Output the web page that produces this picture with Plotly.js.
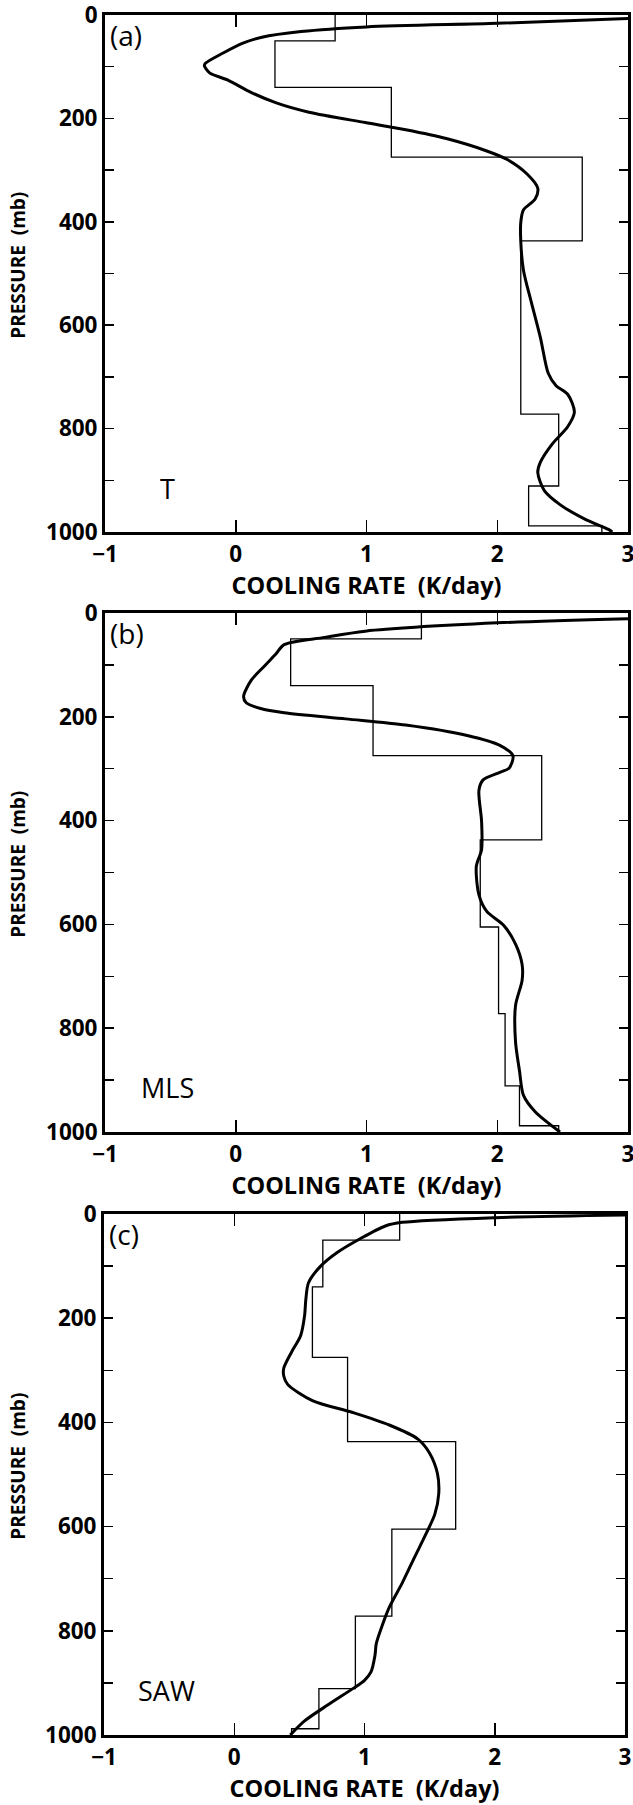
<!DOCTYPE html>
<html><head><meta charset="utf-8">
<script src="https://cdn.plot.ly/plotly-3.0.1.min.js"></script>
<style>html,body{margin:0;padding:0;background:#fff}#chart{width:633px;height:1805px}</style>
</head><body><div id="chart"></div>
<script>
// ---- data ----
const layerBounds = [0, 50, 140, 275, 437, 605, 772, 911, 988, 1000];
const stepT   = [0.76, 0.30, 1.19, 2.65, 2.18, 2.18, 2.47, 2.24, 2.80];
const stepMLS = [1.42, 0.42, 1.05, 2.34, 1.87, 2.01, 2.06, 2.17, 2.47];
const stepSAW = [1.27, 0.68, 0.60, 0.87, 1.70, 1.21, 0.93, 0.65, 0.44];

const curveT_x = [3.0, 2.0, 1.0, 0.50, 0.20, 0.06, -0.10, -0.23, -0.24, -0.20, -0.06, 0.12, 0.31, 0.56, 0.99, 1.30, 1.61, 1.92, 2.08, 2.23, 2.31, 2.29, 2.20, 2.18, 2.18, 2.20, 2.26, 2.33, 2.39, 2.45, 2.54, 2.59, 2.54, 2.42, 2.33, 2.31, 2.36, 2.48, 2.67, 2.85, 2.88];
const curveT_p = [7, 16, 23, 32, 43, 54, 74, 93, 98, 112, 126, 150, 170, 188, 208, 222, 239, 263, 280, 308, 335, 356, 377, 401, 438, 493, 555, 624, 693, 717, 734, 768, 796, 830, 865, 885, 920, 947, 975, 995, 1000];

const curveMLS_x = [3.0, 2.0, 0.99, 0.68, 0.37, 0.31, 0.22, 0.12, 0.06, 0.08, 0.19, 0.37, 0.84, 1.30, 1.77, 2.02, 2.12, 2.09, 2.02, 1.89, 1.86, 1.88, 1.88, 1.84, 1.86, 1.92, 2.05, 2.14, 2.19, 2.19, 2.14, 2.14, 2.17, 2.20, 2.29, 2.48];
const curveMLS_p = [11, 19, 35, 47, 61, 78, 102, 129, 161, 173, 184, 192, 204, 216, 236, 255, 275, 299, 307, 322, 342, 401, 456, 488, 543, 575, 602, 638, 677, 708, 756, 827, 882, 929, 961, 1000];

const curveSAW_x = [3.0, 2.0, 1.29, 1.16, 0.97, 0.79, 0.66, 0.57, 0.55, 0.54, 0.51, 0.44, 0.38, 0.38, 0.41, 0.60, 0.91, 1.19, 1.41, 1.50, 1.56, 1.57, 1.54, 1.47, 1.38, 1.29, 1.19, 1.13, 1.09, 1.08, 1.05, 1.00, 0.91, 0.72, 0.54, 0.43];
const curveSAW_p = [2, 7, 16, 23, 47, 74, 101, 132, 163, 195, 233, 265, 296, 311, 327, 358, 381, 405, 432, 459, 498, 537, 576, 615, 661, 708, 755, 794, 825, 848, 879, 895, 911, 942, 973, 1000];

const panelLetters = ['(a)', '(b)', '(c)'];
const panelNames = ['T', 'MLS', 'SAW'];
const xTickVals = [-1, 0, 1, 2, 3];
const pTickVals = [0, 100, 200, 300, 400, 500, 600, 700, 800, 900, 1000];
const pTickText = ['0', '', '200', '', '400', '', '600', '', '800', '', '1000'];
const xTitle = 'COOLING RATE\u00a0 (K/day)';
const yTitle = 'PRESSURE\u00a0 (mb)';

// ---- figure ----
const W = 633, H = 1805;
const FONT = 'Open Sans, Liberation Sans, sans-serif';
const boxesPx = [[105, 628, 15, 532], [105, 628, 613, 1132], [104, 625, 1214, 1735]];
const steps = [stepT, stepMLS, stepSAW];
const curves = [[curveT_x, curveT_p], [curveMLS_x, curveMLS_p], [curveSAW_x, curveSAW_p]];

const traces = [];
const layout = {
  width: W, height: H,
  margin: {l: 0, r: 0, t: 0, b: 0, autoexpand: false},
  paper_bgcolor: '#fff', plot_bgcolor: '#fff',
  showlegend: false,
  annotations: []
};

for (let i = 0; i < 3; i++) {
  const sfx = i === 0 ? '' : String(i + 1);
  const xa = 'x' + sfx, ya = 'y' + sfx;
  const st = steps[i];
  traces.push({
    type: 'scatter', mode: 'lines', xaxis: xa, yaxis: ya,
    x: st.concat([st[st.length - 1]]), y: layerBounds,
    line: {shape: 'vh', color: '#000', width: 1.3},
    hoverinfo: 'skip'
  });
  traces.push({
    type: 'scatter', mode: 'lines', xaxis: xa, yaxis: ya,
    x: curves[i][0], y: curves[i][1],
    line: {shape: 'spline', smoothing: 0.8, color: '#000', width: 3},
    hoverinfo: 'skip'
  });
  const b = boxesPx[i];
  layout['xaxis' + sfx] = {
    domain: [b[0] / W, b[1] / W], anchor: ya, range: [-1, 3],
    tickmode: 'array', tickvals: xTickVals,
    ticks: 'inside', ticklen: 12, tickwidth: 1.5, tickcolor: '#000',
    showline: true, linewidth: 3, linecolor: '#000', mirror: 'ticks',
    showgrid: false, zeroline: false, automargin: false,
    ticklabeloverflow: 'allow',
    tickfont: {family: FONT, size: 22.5, weight: 'bold', color: '#000'},
    title: {text: xTitle, font: {family: FONT, size: 23.5, weight: 'bold', color: '#000'}, standoff: 5}
  };
  layout['yaxis' + sfx] = {
    domain: [1 - b[3] / H, 1 - b[2] / H], anchor: xa, range: [1000, 0],
    tickmode: 'array', tickvals: pTickVals, ticktext: pTickText,
    ticks: 'inside', ticklen: 9, tickwidth: 1.5, tickcolor: '#000',
    showline: true, linewidth: 3, linecolor: '#000', mirror: 'ticks',
    showgrid: false, zeroline: false, automargin: false,
    ticklabeloverflow: 'allow',
    tickfont: {family: FONT, size: 22.5, weight: 'bold', color: '#000'}
  };
  // y-axis title, placed precisely
  layout.annotations.push({
    xref: 'paper', yref: ya + ' domain', x: 18 / W, y: 0.515,
    xanchor: 'center', yanchor: 'middle', textangle: -90,
    text: yTitle, showarrow: false,
    font: {family: FONT, size: 19, weight: 'bold', color: '#000'}
  });
  layout.annotations.push({
    xref: xa + ' domain', yref: ya + ' domain', x: 0, y: 1,
    xanchor: 'left', yanchor: 'top', xshift: 3, yshift: 1,
    text: panelLetters[i], showarrow: false,
    font: {family: FONT, size: 28, color: '#000'}
  });
  layout.annotations.push({
    xref: xa, yref: ya, x: -0.52, y: 915,
    xanchor: 'center', yanchor: 'middle',
    text: panelNames[i], showarrow: false,
    font: {family: FONT, size: 27, color: '#000'}
  });
}

Plotly.newPlot('chart', traces, layout, {staticPlot: true, displayModeBar: false});
</script>
</body></html>
